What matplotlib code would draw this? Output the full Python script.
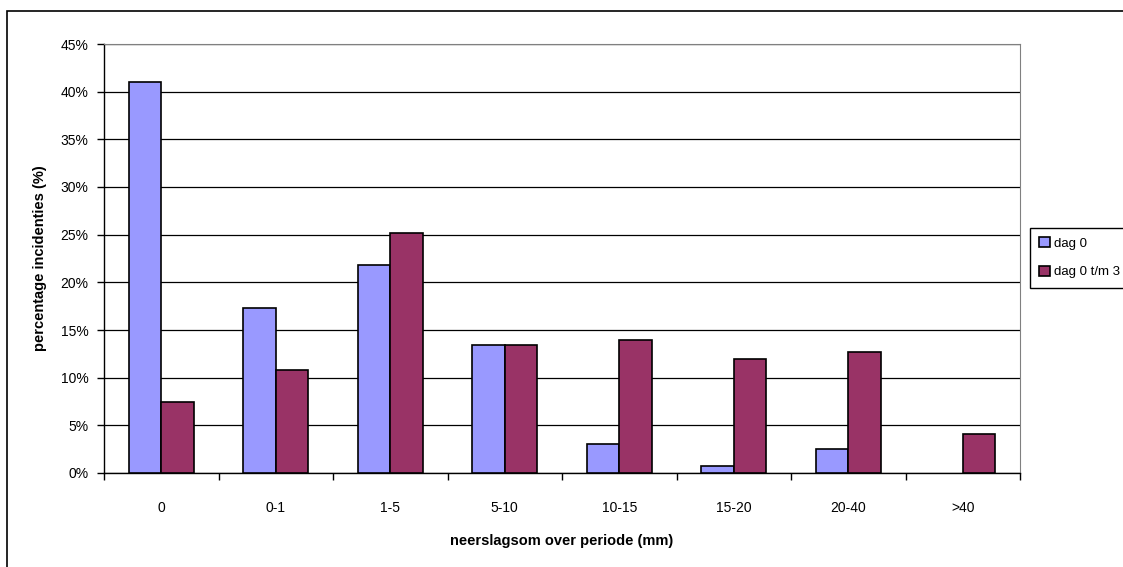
import numpy as np
import matplotlib.pyplot as plt
from matplotlib.patches import Rectangle
from matplotlib.ticker import FixedLocator, FuncFormatter

plt.rcParams['font.family'] = ['Liberation Sans', 'DejaVu Sans']

categories = ['0', '0-1', '1-5', '5-10', '10-15', '15-20', '20-40', '>40']
dag0 = [41.0, 17.3, 21.8, 13.4, 3.0, 0.7, 2.5, 0.0]
dag0_3 = [7.45, 10.8, 25.2, 13.4, 14.0, 12.0, 12.7, 4.1]

fig = plt.figure(figsize=(11.23, 5.67), dpi=100)
ax = fig.add_axes([104/1123, 1-473/567, 916/1123, 429/567])

x = np.arange(len(categories))
w = 0.285
b1 = ax.bar(x - w/2, dag0, w, color='#9999FF', edgecolor='black', linewidth=1.2, label='dag 0', zorder=3)
b2 = ax.bar(x + w/2, dag0_3, w, color='#993366', edgecolor='black', linewidth=1.2, label='dag 0 t/m 3', zorder=3)
# empty bars should not show an outline
for bars, vals in ((b1, dag0), (b2, dag0_3)):
    for r, v in zip(bars, vals):
        if v == 0:
            r.set_visible(False)

ax.set_xlim(-0.5, len(categories) - 0.5)
ax.set_ylim(0, 45)
ax.set_yticks(np.arange(0, 46, 5))
ax.yaxis.set_major_formatter(FuncFormatter(lambda v, p: '%d%%' % v))
ax.yaxis.grid(True, color='black', linewidth=0.9, zorder=0)

ax.xaxis.set_major_locator(FixedLocator(np.arange(-0.5, len(categories), 1)))
ax.xaxis.set_major_formatter(FuncFormatter(lambda v, p: ''))
ax.xaxis.set_minor_locator(FixedLocator(x))
ax.set_xticklabels(categories, minor=True)
ax.tick_params(axis='x', which='major', length=5, direction='out', width=1)
ax.tick_params(axis='x', which='minor', length=0, pad=20, labelsize=10)
ax.tick_params(axis='y', length=5, direction='out', width=1, pad=6, labelsize=10)

for s in ['top', 'right']:
    ax.spines[s].set_color('#808080')
ax.spines['left'].set_linewidth(1.0)
ax.spines['bottom'].set_linewidth(1.0)

ax.set_xlabel('neerslagsom over periode (mm)', fontsize=10.5, fontweight='bold', labelpad=14)
ax.set_ylabel('percentage incidenties (%)', fontsize=10.5, fontweight='bold', labelpad=10)

leg = fig.legend(loc='upper left', bbox_to_anchor=(1030/1123, 1-228/567), fontsize=9.5,
                 frameon=True, fancybox=False, edgecolor='black', framealpha=1,
                 handlelength=0.8, handleheight=0.8, handletextpad=0.35,
                 labelspacing=1.2, borderpad=0.7, borderaxespad=0)
leg.get_frame().set_linewidth(1.0)

fig.patches.append(Rectangle((7/1123, -0.05), 1.1, 1 - 11/567 + 0.05, transform=fig.transFigure,
                             fill=False, edgecolor='black', linewidth=1.2, clip_on=False))

fig.savefig('out.png', dpi=100)
